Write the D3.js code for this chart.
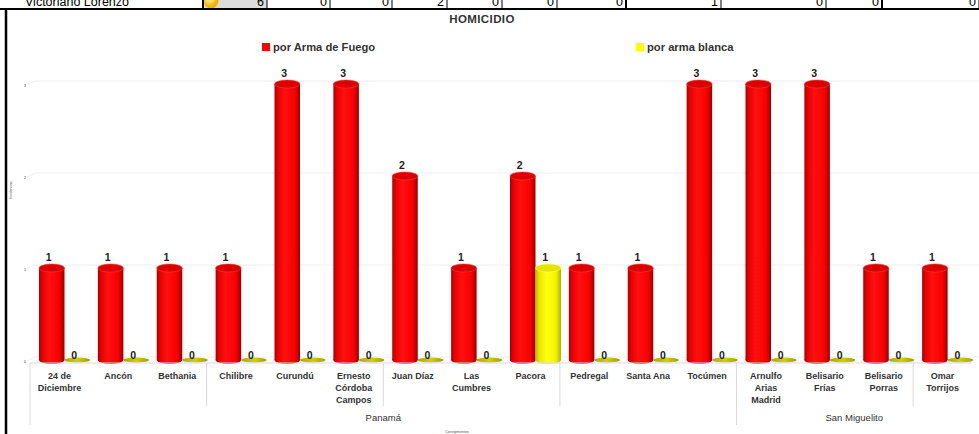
<!DOCTYPE html>
<html>
<head>
<meta charset="utf-8">
<script src="https://cdn.jsdelivr.net/npm/d3@7"></script>
<style>
  html, body { margin: 0; padding: 0; background: #fff; overflow: hidden; }
  svg { display: block; }
</style>
</head>
<body>
<div id="chart"></div>
<script>
// --- data ---
const categories = ["24 de Diciembre", "Ancón", "Bethania", "Chilibre", "Curundú",
  "Ernesto Córdoba Campos", "Juan Díaz", "Las Cumbres", "Pacora", "Pedregal",
  "Santa Ana", "Tocúmen", "Arnulfo Arias Madrid", "Belisario Frías",
  "Belisario Porras", "Omar Torrijos"];
const categoryLines = [["24 de", "Diciembre"], ["Ancón"], ["Bethania"], ["Chilibre"], ["Curundú"],
  ["Ernesto", "Córdoba", "Campos"], ["Juan Díaz"], ["Las", "Cumbres"], ["Pacora"], ["Pedregal"],
  ["Santa Ana"], ["Tocúmen"], ["Arnulfo", "Arias", "Madrid"], ["Belisario", "Frías"],
  ["Belisario", "Porras"], ["Omar", "Torrijos"]];
const groups = [{ name: "Panamá", from: 0, to: 11 }, { name: "San Miguelito", from: 12, to: 15 }];
const series = ["por Arma de Fuego", "por arma blanca"];
const armaFuego = [1, 1, 1, 1, 3, 3, 2, 1, 2, 1, 1, 3, 3, 3, 1, 1];
const armaBlanca = [0, 0, 0, 0, 0, 0, 0, 0, 1, 0, 0, 0, 0, 0, 0, 0];
const yTicks = [0, 1, 2, 3];

// spreadsheet row above the chart
const rowLabel = "Victoriano Lorenzo";
const rowValues = ["6", "0", "0", "2", "0", "0", "0", "1", "0", "0", "0"];
const rowBorders = [203, 267, 330, 392, 447, 502, 557, 626, 721, 826, 882, 979];

const width = 979, height = 434;

const svg = d3.select("#chart").append("svg")
  .attr("width", width)
  .attr("height", height)
  .style("font-family", "'Liberation Sans', Arial, sans-serif");

const defs = svg.append("defs");

// --- spreadsheet row ---
const row = svg.append("g");
row.append("rect").attr("x", rowBorders[0]).attr("y", 0)
  .attr("width", rowBorders[1] - rowBorders[0]).attr("height", 9).attr("fill", "#dcdcdc");
const bulb = defs.append("radialGradient").attr("id", "bulb").attr("cx", "40%").attr("cy", "35%");
bulb.append("stop").attr("offset", "0%").attr("stop-color", "#fff6b0");
bulb.append("stop").attr("offset", "100%").attr("stop-color", "#f2b400");
row.append("circle").attr("cx", 211).attr("cy", 1).attr("r", 7.5).attr("fill", "url(#bulb)");
row.append("text").attr("x", 25).attr("y", 6).attr("font-size", 12.5).attr("fill", "#000").text(rowLabel);
rowValues.forEach((v, i) => {
  row.append("text").attr("x", rowBorders[i + 1] - 3).attr("y", 6)
    .attr("text-anchor", "end").attr("font-size", 12.5).attr("fill", "#000").text(v);
});
rowBorders.forEach((b, i) => {
  const thick = [0, 7, 10].includes(i);
  row.append("line").attr("x1", b).attr("x2", b).attr("y1", 0).attr("y2", 9)
    .attr("stroke", "#000").attr("stroke-width", thick ? 2 : 1);
});
row.append("line").attr("x1", 0).attr("x2", width).attr("y1", 9).attr("y2", 9)
  .attr("stroke", "#000").attr("stroke-width", 2);
svg.append("line").attr("x1", 6).attr("x2", 6).attr("y1", 9).attr("y2", height)
  .attr("stroke", "#000").attr("stroke-width", 2.5);

// --- title & legend ---
svg.append("text").attr("x", 482).attr("y", 23).attr("text-anchor", "middle")
  .attr("font-size", 11.5).attr("font-weight", "bold").attr("letter-spacing", 0.4)
  .attr("fill", "#333").text("HOMICIDIO");

const legendX = [262, 636];
const legendColor = ["#ff0000", "#ffff00"];
series.forEach((s, i) => {
  svg.append("rect").attr("x", legendX[i]).attr("y", 43).attr("width", 8).attr("height", 8)
    .attr("fill", legendColor[i]);
  svg.append("text").attr("x", legendX[i] + 11).attr("y", 51)
    .attr("font-size", 11.2).attr("font-weight", "bold").attr("fill", "#333").text(s);
});

// --- scales ---
const x = d3.scaleBand().domain(categories).range([30, 972]);
const xs = d3.scaleBand().domain(series).range([9, 60]);
const y = d3.scaleLinear().domain([0, 3]).range([360, 84]);

// gridlines (back wall)
svg.append("g").selectAll("line").data(yTicks).join("line")
  .attr("x1", 35).attr("x2", width)
  .attr("y1", d => y(d) - 3).attr("y2", d => y(d) - 3)
  .attr("stroke", "#eeeeee").attr("stroke-width", 1);
svg.append("g").selectAll("line").data(yTicks).join("line")
  .attr("x1", 27).attr("x2", 35)
  .attr("y1", d => y(d) + 1).attr("y2", d => y(d) - 3)
  .attr("stroke", "#eeeeee").attr("stroke-width", 1);

// tiny y axis labels & title
svg.append("g").selectAll("text").data(yTicks).join("text")
  .attr("x", 25).attr("y", d => y(d) + 3).attr("text-anchor", "middle")
  .attr("font-size", 3.5).attr("fill", "#333").text(d => d);
svg.append("text").attr("transform", "translate(12,190) rotate(-90)")
  .attr("text-anchor", "middle").attr("font-size", 3.5).attr("fill", "#555").text("Incidencias");

// --- gradients for cylinders ---
function bodyGradient(id, stops) {
  const g = defs.append("linearGradient").attr("id", id).attr("x1", "0%").attr("x2", "100%");
  stops.forEach(([o, c]) => g.append("stop").attr("offset", o).attr("stop-color", c));
}
bodyGradient("redBody", [["0%", "#a80000"], ["12%", "#e60000"], ["40%", "#ff1010"], ["80%", "#f80000"], ["100%", "#9a0000"]]);
bodyGradient("yellowBody", [["0%", "#b8b800"], ["15%", "#e8e800"], ["45%", "#ffff10"], ["80%", "#f4f400"], ["100%", "#b0b000"]]);
bodyGradient("olive", [["0%", "#a8a800"], ["50%", "#d0d000"], ["100%", "#a0a000"]]);

const styles = {
  [series[0]]: { body: "url(#redBody)", cap: "#d80000", rim: "#ff3a3a" },
  [series[1]]: { body: "url(#yellowBody)", cap: "#e4e400", rim: "#ffff60" }
};

const bars = [];
categories.forEach((c, i) => {
  bars.push({ cat: c, s: series[0], v: armaFuego[i] });
  bars.push({ cat: c, s: series[1], v: armaBlanca[i] });
});

const ry = 4;
const barG = svg.append("g");
bars.forEach(d => {
  const bx = x(d.cat) + xs(d.s);
  const w = xs.bandwidth();
  const cx = bx + w / 2;
  const top = y(d.v), base = y(0);
  const st = styles[d.s];
  if (d.v > 0) {
    barG.append("ellipse").attr("cx", cx).attr("cy", base).attr("rx", w / 2).attr("ry", ry)
      .attr("fill", st.body);
    barG.append("rect").attr("x", bx).attr("y", top).attr("width", w).attr("height", base - top)
      .attr("fill", st.body);
    barG.append("ellipse").attr("cx", cx).attr("cy", top).attr("rx", w / 2).attr("ry", ry)
      .attr("fill", st.cap).attr("stroke", st.rim).attr("stroke-width", 0.6);
  } else {
    barG.append("ellipse").attr("cx", cx).attr("cy", base).attr("rx", w / 2).attr("ry", 2.5)
      .attr("fill", "url(#olive)");
  }
  barG.append("text").attr("x", cx - 3).attr("y", d.v > 0 ? top - 7 : base - 1.5)
    .attr("text-anchor", "middle").attr("font-size", 10.5).attr("font-weight", "bold")
    .attr("fill", "#222").text(d.v);
});

// --- x axis ---
const axisY = 363;
svg.append("line").attr("x1", 30).attr("x2", 972).attr("y1", axisY).attr("y2", axisY)
  .attr("stroke", "#d9d9d9");
const xAxis = svg.append("g").attr("transform", `translate(0,${axisY})`)
  .call(d3.axisBottom(x).tickSize(0).tickFormat(""));
xAxis.select(".domain").remove();
xAxis.selectAll(".tick").each(function (d) {
  const lines = categoryLines[categories.indexOf(d)];
  const t = d3.select(this).append("text")
    .attr("y", 16).attr("fill", "#333").attr("font-size", 9)
    .attr("font-weight", "bold").attr("text-anchor", "middle");
  lines.forEach((l, k) => t.append("tspan").attr("x", 0).attr("dy", k === 0 ? 0 : 12).text(l));
});

// separators every 3 categories, longer at group boundaries
const groupStarts = groups.map(g => g.from);
d3.range(0, categories.length, 3).forEach(i => {
  const sx = x(categories[i]);
  const long = groupStarts.includes(i);
  svg.append("line").attr("x1", sx).attr("x2", sx).attr("y1", axisY)
    .attr("y2", long ? 425 : 406).attr("stroke", "#d9d9d9");
});

groups.forEach(g => {
  const gx = (x(categories[g.from]) + x(categories[g.to]) + x.bandwidth()) / 2;
  svg.append("text").attr("x", gx).attr("y", 421).attr("text-anchor", "middle")
    .attr("font-size", 9.5).attr("fill", "#333").text(g.name);
});

svg.append("text").attr("x", 457).attr("y", 433).attr("text-anchor", "middle")
  .attr("font-size", 3.5).attr("fill", "#555").text("Corregimientos");
</script>
</body>
</html>
